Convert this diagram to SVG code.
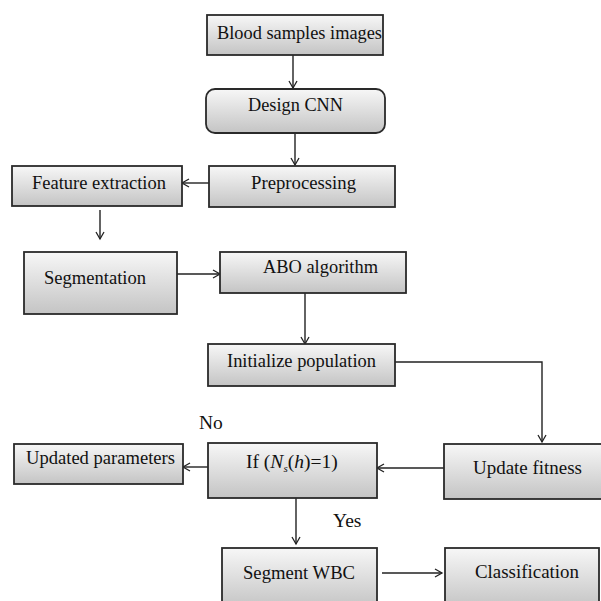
<svg xmlns="http://www.w3.org/2000/svg" width="601" height="601" viewBox="0 0 601 601">
<defs>
<linearGradient id="g" x1="0" y1="0" x2="0" y2="1">
<stop offset="0" stop-color="#f7f7f7"/>
<stop offset="1" stop-color="#c4c4c4"/>
</linearGradient>
<marker id="arr" markerWidth="10" markerHeight="10" refX="8" refY="5" orient="auto" markerUnits="userSpaceOnUse">
<path d="M1,1 L8,5 L1,9" fill="none" stroke="#222" stroke-width="1.3"/>
</marker>
</defs>
<style>
.box{fill:url(#g);stroke:#2a2a2a;stroke-width:1.8}
.t{font-family:"Liberation Serif","Times New Roman",serif;font-size:19.5px;fill:#111}
.ln{fill:none;stroke:#222;stroke-width:1.4}
.a{marker-end:url(#arr)}
</style>
<rect width="601" height="601" fill="#fff"/>
<g id="connectors">
<line class="ln a" x1="293" y1="55" x2="293" y2="88"/>
<line class="ln a" x1="295" y1="133" x2="295" y2="165"/>
<line class="ln a" x1="209" y1="183" x2="182" y2="183"/>
<line class="ln a" x1="100" y1="210" x2="100" y2="239"/>
<line class="ln a" x1="177" y1="274" x2="220" y2="274"/>
<line class="ln a" x1="305" y1="293" x2="305" y2="344"/>
<polyline class="ln a" points="395,362 542,362 542,442"/>
<line class="ln a" x1="444" y1="468" x2="377" y2="468"/>
<line class="ln a" x1="208" y1="467" x2="183" y2="467"/>
<line class="ln a" x1="296" y1="498" x2="296" y2="544"/>
<line class="ln a" x1="382" y1="573" x2="442" y2="573"/>
</g>
<g id="n-blood">
<rect class="box" x="207" y="15" width="176" height="40"/>
<text class="t" x="217" y="39" textLength="165" lengthAdjust="spacingAndGlyphs">Blood samples images</text>
</g>
<g id="n-design">
<rect class="box" x="206" y="89" width="179" height="44" rx="9"/>
<text class="t" x="248" y="111" textLength="95" lengthAdjust="spacingAndGlyphs">Design CNN</text>
</g>
<g id="n-pre">
<rect class="box" x="209" y="166" width="186" height="41"/>
<text class="t" x="251" y="189" textLength="105" lengthAdjust="spacingAndGlyphs">Preprocessing</text>
</g>
<g id="n-feature">
<rect class="box" x="12" y="166" width="170" height="40"/>
<text class="t" x="32" y="189" textLength="134" lengthAdjust="spacingAndGlyphs">Feature extraction</text>
</g>
<g id="n-seg">
<rect class="box" x="24" y="252" width="153" height="62"/>
<text class="t" x="44" y="284" textLength="102" lengthAdjust="spacingAndGlyphs">Segmentation</text>
</g>
<g id="n-abo">
<rect class="box" x="220" y="252" width="186" height="41"/>
<text class="t" x="263" y="273" textLength="115" lengthAdjust="spacingAndGlyphs">ABO algorithm</text>
</g>
<g id="n-init">
<rect class="box" x="208" y="344" width="187" height="42"/>
<text class="t" x="227" y="367" textLength="149" lengthAdjust="spacingAndGlyphs">Initialize population</text>
</g>
<g id="n-fitness">
<rect class="box" x="444" y="444" width="160" height="55"/>
<text class="t" x="473" y="474" textLength="109" lengthAdjust="spacingAndGlyphs">Update fitness</text>
</g>
<g id="n-if">
<rect class="box" x="208" y="443" width="169" height="55"/>
<text class="t" x="246" y="468" font-size="20.5">If (<tspan font-style="italic">N</tspan><tspan font-size="11" dy="4" font-style="italic">s</tspan><tspan dy="-4">(</tspan><tspan font-style="italic">h</tspan>)=1)</text>
</g>
<g id="n-updated">
<rect class="box" x="14" y="444" width="169" height="40"/>
<text class="t" x="26" y="464" textLength="149" lengthAdjust="spacingAndGlyphs">Updated parameters</text>
</g>
<g id="n-segwbc">
<rect class="box" x="222" y="548" width="155" height="60"/>
<text class="t" x="243" y="579" textLength="112" lengthAdjust="spacingAndGlyphs">Segment WBC</text>
</g>
<g id="n-class">
<rect class="box" x="445" y="548" width="154" height="60"/>
<text class="t" x="475" y="578" textLength="104" lengthAdjust="spacingAndGlyphs">Classification</text>
</g>
<g id="labels">
<text class="t" x="199" y="429">No</text>
<text class="t" x="333" y="527">Yes</text>
</g>
</svg>
